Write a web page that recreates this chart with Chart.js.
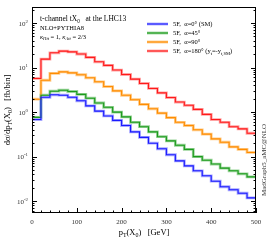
<!DOCTYPE html>
<html>
<head>
<meta charset="utf-8">
<script src="https://cdn.jsdelivr.net/npm/chart.js@4"></script>
<style>
html, body { margin: 0; padding: 0; background: #fff; }
</style>
</head>
<body>
<canvas id="myChart" width="270" height="243"></canvas>
<script>
// bin edges in GeV (20 GeV bins), last edge closes the histogram
const binEdges = [0, 20, 40, 60, 80, 100, 120, 140, 160, 180, 200, 220, 240, 260, 280, 300, 320, 340, 360, 380, 400, 420, 440, 460, 480, 500];

// dsigma/dpT per bin [fb/bin]
const alpha0 = [0.68, 2.15, 2.45, 2.4, 2.15, 1.8, 1.38, 1.05, 0.82, 0.65, 0.5, 0.36, 0.27, 0.2, 0.15, 0.11, 0.08, 0.062, 0.048, 0.037, 0.028, 0.021, 0.018, 0.015, 0.0118];
const alpha45 = [0.76, 2.4, 2.95, 3.1, 2.9, 2.5, 2.05, 1.6, 1.28, 1.0, 0.78, 0.59, 0.47, 0.36, 0.28, 0.225, 0.18, 0.145, 0.1, 0.083, 0.068, 0.055, 0.048, 0.041, 0.035];
const alpha90 = [1.95, 5.2, 7.4, 8.0, 7.6, 6.9, 5.9, 4.8, 3.75, 3.0, 2.39, 1.9, 1.49, 1.19, 0.95, 0.75, 0.59, 0.5, 0.4, 0.32, 0.25, 0.21, 0.165, 0.145, 0.124];
const alpha180 = [5.7, 15.5, 21.5, 23.5, 22.5, 20.2, 17.0, 13.5, 11.2, 8.8, 7.0, 5.5, 4.4, 3.4, 2.7, 2.12, 1.68, 1.42, 1.15, 0.89, 0.68, 0.59, 0.47, 0.42, 0.335];

const xTicks = [0, 100, 200, 300, 400, 500];
const yDecades = [-2, -1, 0, 1, 2];
const yMin = 0.0054, yMax = 230;

const SERIF = '"Liberation Serif", "DejaVu Serif", serif';

const series = [
  { vals: alpha0,   main: '#1a1aff', light: '#a8a8ff', label: [['5F,  ', ''], ['α', ''], ['=0° (SM)', '']] },
  { vals: alpha45,  main: '#1c9a1c', light: '#9ad49a', label: [['5F,  ', ''], ['α', ''], ['=45°', '']] },
  { vals: alpha90,  main: '#ff8c00', light: '#ffcb88', label: [['5F,  ', ''], ['α', ''], ['=90°', '']] },
  { vals: alpha180, main: '#ff1a1a', light: '#ffa4a4', label: [['5F,  ', ''], ['α', ''], ['=180° (y', ''], ['t', 'b'], ['=-y', ''], ['t,SM', 'b'], [')', '']] }
];

function histPoints(vals) {
  const pts = vals.map((v, i) => ({ x: binEdges[i], y: v }));
  pts.push({ x: binEdges[binEdges.length - 1], y: vals[vals.length - 1] });
  return pts;
}

// main lines on top (order 0), light bands underneath (order 1)
const datasets = [];
series.forEach(s => {
  datasets.push({ data: histPoints(s.vals), borderColor: s.light, borderWidth: 2.8, stepped: 'before', pointRadius: 0, fill: false, order: 1 });
  datasets.push({ data: histPoints(s.vals), borderColor: s.main, borderWidth: 1.1, stepped: 'before', pointRadius: 0, fill: false, order: 0 });
});

// draw text made of pieces: '' normal, 'b' subscript, 'p' superscript, 'i' italic, 'ib' italic subscript
function rich(ctx, parts, x, y, size, align) {
  const fontFor = k => {
    const sz = (k === 'b' || k === 'p' || k === 'ib') ? size * 0.7 : size;
    return ((k === 'i' || k === 'ib') ? 'italic ' : '') + sz + 'px ' + SERIF;
  };
  let w = 0;
  parts.forEach(p => { ctx.font = fontFor(p[1]); w += ctx.measureText(p[0]).width; });
  let cx = align === 'center' ? x - w / 2 : (align === 'right' ? x - w : x);
  ctx.textBaseline = 'alphabetic';
  ctx.textAlign = 'left';
  parts.forEach(p => {
    ctx.font = fontFor(p[1]);
    let dy = 0;
    if (p[1] === 'b' || p[1] === 'ib') dy = size * 0.28;
    if (p[1] === 'p') dy = -size * 0.42;
    ctx.fillText(p[0], cx, y + dy);
    cx += ctx.measureText(p[0]).width;
  });
}

const decorations = {
  id: 'decorations',
  afterDraw(chart) {
    const ctx = chart.ctx;
    const a = chart.chartArea;
    const xs = chart.scales.x, ys = chart.scales.y;
    ctx.save();
    ctx.strokeStyle = '#000';
    ctx.lineWidth = 1;
    ctx.strokeRect(a.left + 0.5, a.top + 0.5, a.right - a.left - 1, a.bottom - a.top - 1);

    // y ticks, inward on both sides
    ctx.beginPath();
    ys.ticks.forEach(t => {
      const py = Math.round(ys.getPixelForValue(t.value)) + 0.5;
      const major = Math.abs(Math.log10(t.value) - Math.round(Math.log10(t.value))) < 1e-9;
      const len = major ? 5 : 2.5;
      ctx.moveTo(a.left, py); ctx.lineTo(a.left + len, py);
      ctx.moveTo(a.right, py); ctx.lineTo(a.right - len, py);
    });
    // x ticks every 20 GeV
    for (let v = 0; v <= 500; v += 20) {
      const px = Math.round(xs.getPixelForValue(v)) + 0.5;
      const len = v % 100 === 0 ? 5 : 2.5;
      ctx.moveTo(px, a.bottom); ctx.lineTo(px, a.bottom - len);
    }
    ctx.stroke();

    // y tick labels 10^n
    ctx.fillStyle = '#333';
    yDecades.forEach(e => {
      const py = ys.getPixelForValue(Math.pow(10, e));
      rich(ctx, [['10', ''], [String(e), 'p']], a.left - 4, py + 2.5, 7, 'right');
    });

    ctx.fillStyle = '#000';
    // axis titles
    rich(ctx, [['p', ''], ['T', 'b'], ['(X', ''], ['0', 'b'], [')   [GeV]', '']], (a.left + a.right) / 2, 235, 8.5, 'center');
    ctx.save();
    ctx.translate(10, 110);
    ctx.rotate(-Math.PI / 2);
    rich(ctx, [['dσ/dp', ''], ['T', 'b'], ['(X', ''], ['0', 'b'], [')   [fb/bin]', '']], 0, 0, 8.5, 'center');
    ctx.restore();

    // annotations
    rich(ctx, [['t-channel tX', ''], ['0', 'b'], ['   at the LHC13', '']], 40, 21, 7.5, 'left');
    rich(ctx, [['NLO+PYTHIA8', '']], 40, 30, 6.5, 'left');
    rich(ctx, [['κ', 'i'], ['Htt', 'ib'], [' = 1, ', ''], ['κ', 'i'], ['Att', 'ib'], [' = 2/3', '']], 40, 38.5, 6.5, 'left');

    // legend
    series.forEach((s, i) => {
      const ly = 24 + i * 9;
      ctx.lineWidth = 2.8;
      ctx.strokeStyle = s.light;
      ctx.beginPath(); ctx.moveTo(147, ly); ctx.lineTo(168, ly); ctx.stroke();
      ctx.lineWidth = 1.1;
      ctx.strokeStyle = s.main;
      ctx.beginPath(); ctx.moveTo(147, ly); ctx.lineTo(168, ly); ctx.stroke();
      ctx.fillStyle = '#000';
      rich(ctx, s.label, 173, ly + 2.3, 6.5, 'left');
    });

    // generator tag
    ctx.save();
    ctx.translate(266, 160);
    ctx.rotate(-Math.PI / 2);
    ctx.fillStyle = '#333';
    rich(ctx, [['MadGraph5_aMC@NLO', '']], 0, 0, 7, 'center');
    ctx.restore();
    ctx.restore();
  }
};

const config = {
  type: 'line',
  data: { datasets: datasets },
  options: {
    responsive: false,
    animation: false,
    devicePixelRatio: 1,
    layout: { padding: { top: 7, right: 14, left: 0, bottom: 0 } },
    plugins: { legend: { display: false }, tooltip: { enabled: false } },
    elements: { line: { tension: 0 } },
    scales: {
      x: {
        type: 'linear', min: 0, max: 500,
        afterBuildTicks: s => { s.ticks = xTicks.map(v => ({ value: v })); },
        afterFit: s => { s.height = 30; },
        grid: { display: false, drawTicks: false },
        border: { display: false },
        ticks: { padding: 5, color: '#333', maxRotation: 0, font: { family: SERIF, size: 7 } }
      },
      y: {
        type: 'logarithmic', min: yMin, max: yMax,
        afterBuildTicks: s => {
          const t = [];
          for (let e = -3; e <= 2; e++) {
            for (let m = 1; m < 10; m++) {
              const v = m * Math.pow(10, e);
              if (v >= yMin && v <= yMax) t.push({ value: v });
            }
          }
          s.ticks = t;
        },
        afterFit: s => { s.width = 32; },
        grid: { display: false, drawTicks: false },
        border: { display: false },
        ticks: { display: false }
      }
    }
  },
  plugins: [decorations]
};

const myChart = new Chart(document.getElementById('myChart'), config);
</script>
</body>
</html>
